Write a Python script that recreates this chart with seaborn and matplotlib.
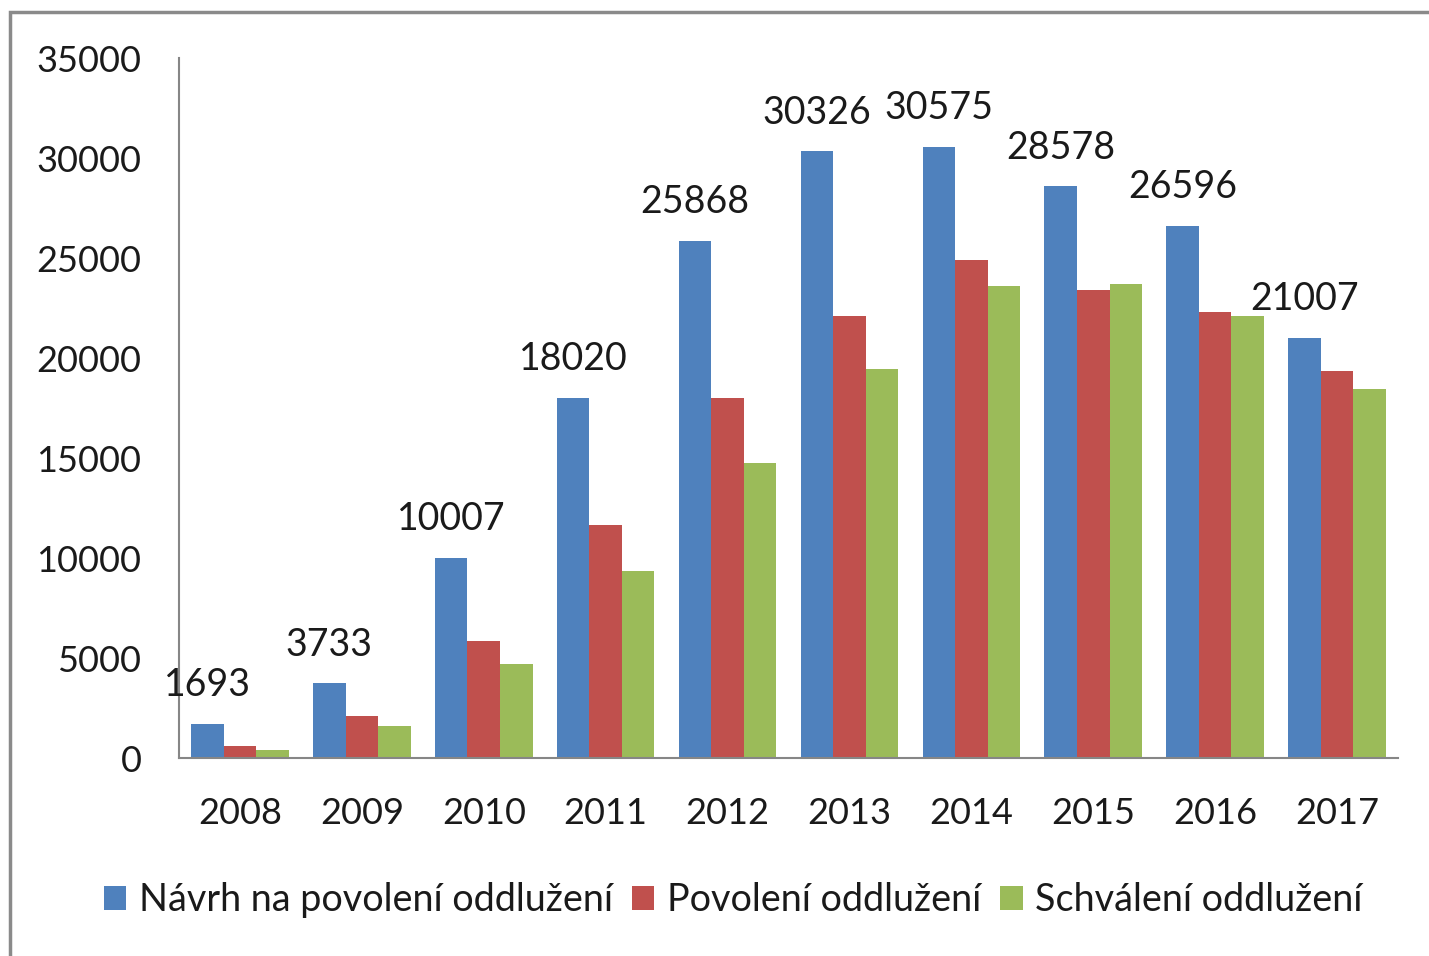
import matplotlib
matplotlib.use("Agg")
import matplotlib.pyplot as plt
import seaborn as sns
import pandas as pd
from matplotlib.patches import Rectangle

years = ["2008", "2009", "2010", "2011", "2012", "2013", "2014", "2015", "2016", "2017"]
navrh = [1693, 3733, 10007, 18020, 25868, 30326, 30575, 28578, 26596, 21007]
povoleni = [600, 2100, 5870, 11670, 18020, 22110, 24910, 23420, 22320, 19330]
schvaleni = [420, 1600, 4700, 9370, 14750, 19430, 23600, 23690, 22100, 18430]
series = ["Návrh na povolení oddlužení", "Povolení oddlužení", "Schválení oddlužení"]
colors = ["#4F81BD", "#C0504D", "#9BBB59"]
yticks = [0, 5000, 10000, 15000, 20000, 25000, 30000, 35000]

rows = []
for name, vals in zip(series, [navrh, povoleni, schvaleni]):
    for y, v in zip(years, vals):
        rows.append({"Rok": y, "Počet": v, "Řada": name})
df = pd.DataFrame(rows)

plt.rcParams['font.family'] = ['Lato', 'DejaVu Sans']
FS = 26
TXT = "#1a1a1a"
AXC = "#868686"

fig = plt.figure(figsize=(14.29, 9.56), dpi=100)
fig.patch.set_facecolor("white")
ax = fig.add_axes([179 / 1429, 1 - 758 / 956, (1398 - 179) / 1429, 700 / 956])

sns.barplot(data=df, x="Rok", y="Počet", hue="Řada", order=years, hue_order=series,
            palette=colors, saturation=1, width=0.8, errorbar=None, ax=ax,
            linewidth=0)

ax.set_xlim(-0.5, len(years) - 0.5)
ax.set_ylim(0, 35000)
ax.set_yticks(yticks)
ax.set_yticklabels([str(t) for t in yticks])
ax.set_xlabel("")
ax.set_ylabel("")
for s in ["top", "right"]:
    ax.spines[s].set_visible(False)
for s in ["left", "bottom"]:
    ax.spines[s].set_color(AXC)
    ax.spines[s].set_linewidth(1.5)
ax.tick_params(axis="y", length=0, pad=27, labelsize=FS, labelcolor=TXT)
ax.tick_params(axis="x", length=0, pad=28, labelsize=FS, labelcolor=TXT)

ax.bar_label(ax.containers[0], labels=[str(v) for v in navrh], padding=15,
             fontsize=27, color=TXT)

handles, labels = ax.get_legend_handles_labels()
if ax.legend_ is not None:
    ax.legend_.remove()
fig.legend(handles, labels, loc="center", bbox_to_anchor=(733 / 1429, 1 - 900 / 956),
           ncol=3, frameon=False, fontsize=27.2, handlelength=0.6, handleheight=0.6,
           handletextpad=0.33, columnspacing=0.5, labelcolor=TXT)

fig.add_artist(Rectangle((10 / 1429, -0.1), 1.2, (1 - 12 / 956) + 0.1,
                         transform=fig.transFigure, fill=False, edgecolor="#8a8a8a",
                         linewidth=2.5, clip_on=False))

fig.savefig("out.png", dpi=100)
